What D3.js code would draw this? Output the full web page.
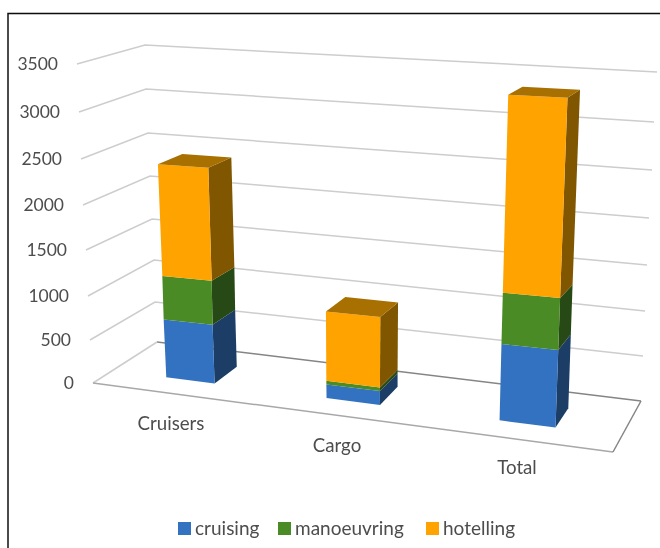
<!DOCTYPE html>
<html><head><meta charset="utf-8">
<script src="https://cdn.jsdelivr.net/npm/d3@7/dist/d3.min.js"></script>
<style>html,body{margin:0;padding:0;background:#fff}svg{display:block}text{font-family:"Lato",sans-serif;fill:#4d4d4d}</style>
</head><body><svg id="c" width="660" height="548"></svg>
<script>
const categories = ["Cruisers","Cargo","Total"];
const seriesNames = ["cruising","manoeuvring","hotelling"];
const cruising = [670,150,800];
const manoeuvring = [490,40,530];
const hotelling = [1235,760,2015];
const tickValues = [0,500,1000,1500,2000,2500,3000,3500];

const colors = d3.scaleOrdinal(seriesNames,["#3272c0","#4b8b26","#ffa300"]);
const sideColors = d3.scaleOrdinal(seriesNames,["#1a3c66","#274a15","#805600"]);
const topColor = "#a87000";

// corners of the 3D box as scales of value
const fl = {x:d3.scaleLinear(tickValues,[93,90,88,86,83,81,79,77]), y:d3.scaleLinear(tickValues,[383,340,296,250,205,159,112,64])};
const bl = {x:d3.scaleLinear(tickValues,[157,155,154,152,150,148,146,145]), y:d3.scaleLinear(tickValues,[342,302,260,219,176,133,89,45])};
const br = {x:d3.scaleLinear(tickValues,[641,643,645,647,649,652,654,657]), y:d3.scaleLinear(tickValues,[401,356,311,265,218,170,122,72])};
const fr = {x:d3.scaleLinear([0,3500],[613,630]), y:d3.scaleLinear([0,3500],[452,92])};
function proj(u,w,v){
  const f=k=>{const a=fl[k](v)+(fr[k](v)-fl[k](v))*u, b=bl[k](v)+(br[k](v)-bl[k](v))*u; return a+(b-a)*w;};
  return [f("x"),f("y")];
}
const uStart = d3.scaleOrdinal(categories,[.105,.42,.76]);
const uWidth = d3.scaleOrdinal(categories,[.095,.105,.11]);
const wFront=.31, wBack=.70;

const svg=d3.select("#c");
const defs=svg.append("defs");
defs.append("filter").attr("id","soft").attr("x","-5%").attr("y","-5%").attr("width","110%").attr("height","110%")
  .append("feGaussianBlur").attr("stdDeviation",.5);
svg.append("rect").attr("width",660).attr("height",548).attr("fill","#fff");
const g=svg.append("g").attr("filter","url(#soft)");
const line=d3.line();

// frame
g.append("path").attr("d",line([[8,548],[8,13.5],[660,13.5]])).attr("fill","none").attr("stroke","#111").attr("stroke-width",1.5);

// gridlines
tickValues.forEach(v=>{
  if(v===0) return;
  g.append("path").attr("d",line([[fl.x(v),fl.y(v)],[bl.x(v),bl.y(v)],[br.x(v),br.y(v)]]))
   .attr("fill","none").attr("stroke","#cdcdcd").attr("stroke-width",1.5);
});
// floor
g.append("path").attr("d",line([[br.x(0),br.y(0)],[bl.x(0),bl.y(0)]])).attr("fill","none").attr("stroke","#858585").attr("stroke-width",1.5);
g.append("path").attr("d",line([[bl.x(0),bl.y(0)],[fl.x(0),fl.y(0)]])).attr("fill","none").attr("stroke","#cdcdcd").attr("stroke-width",1.5);
g.append("path").attr("d",line([[fl.x(0),fl.y(0)],[fr.x(0),fr.y(0)]])).attr("fill","none").attr("stroke","#a8a8a8").attr("stroke-width",1.5);
g.append("path").attr("d",line([[fr.x(0),fr.y(0)],[br.x(0),br.y(0)]])).attr("fill","none").attr("stroke","#858585").attr("stroke-width",1.5);

// stacked bars
const rows=categories.map((c,i)=>({cat:c,cruising:cruising[i],manoeuvring:manoeuvring[i],hotelling:hotelling[i]}));
const stacked=d3.stack().keys(seriesNames)(rows);
categories.forEach((c,i)=>{
  const u0=uStart(c),u1=u0+uWidth(c);
  stacked.forEach(s=>{
    const [v0,v1]=s[i];
    g.append("path").attr("d",line([proj(u1,wFront,v0),proj(u1,wBack,v0),proj(u1,wBack,v1),proj(u1,wFront,v1)])+"Z").attr("fill",sideColors(s.key));
    g.append("path").attr("d",line([proj(u0,wFront,v0),proj(u1,wFront,v0),proj(u1,wFront,v1),proj(u0,wFront,v1)])+"Z").attr("fill",colors(s.key));
  });
  const vt=stacked[2][i][1];
  g.append("path").attr("d",line([proj(u0,wFront,vt),proj(u1,wFront,vt),proj(u1,wBack,vt),proj(u0,wBack,vt)])+"Z").attr("fill",topColor);
});

// value labels
const labelGroup=g.append("g");
tickValues.forEach(v=>{
  labelGroup.append("text").attr("x",fl.x(v)-19).attr("y",fl.y(v)).attr("dy","0.35em").attr("text-anchor","end").attr("font-size",17.5).text(v);
});
// category labels
const catX=d3.scaleOrdinal(categories,[171,337,517]);
const catY=d3.scaleOrdinal(categories,[423,445,467]);
categories.forEach(c=>{
  labelGroup.append("text").attr("x",catX(c)).attr("y",catY(c)).attr("dy","0.35em").attr("text-anchor","middle").attr("font-size",18.7).text(c);
});
// legend
const legX=d3.scaleOrdinal(seriesNames,[178,278,426]);
seriesNames.forEach(n=>{
  g.append("rect").attr("x",legX(n)).attr("y",522).attr("width",13).attr("height",13).attr("fill",colors(n));
  labelGroup.append("text").attr("x",legX(n)+17).attr("y",528).attr("dy","0.35em").attr("font-size",19).text(n);
});
</script></body></html>
